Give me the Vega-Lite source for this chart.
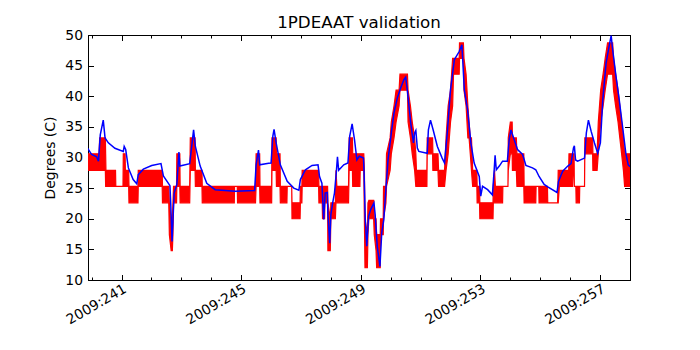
{
  "$schema": "https://vega.github.io/schema/vega-lite/v6.json",
  "width": 542,
  "height": 245,
  "autosize": {"type": "none"},
  "padding": {"left": 88, "top": 35, "right": 70, "bottom": 70},
  "background": "white",
  "title": {"text": "1PDEAAT validation", "font": "DejaVu Sans", "fontSize": 16.7, "fontWeight": "normal", "color": "black", "offset": -4, "anchor": "middle"},
  "config": {
    "view": {"stroke": "black", "strokeWidth": 1},
    "axis": {"domainColor": "black", "tickColor": "black", "labelColor": "black", "labelFont": "DejaVu Sans", "labelFontSize": 13.9, "titleFont": "DejaVu Sans", "titleFontSize": 13.9, "titleFontWeight": "normal", "titleColor": "black", "grid": false, "tickWidth": 1, "domainWidth": 1}
  },
  "datasets": {
    "red": [
      {"t": 239.87, "lo": 27.9, "hi": 30.6},
      {"t": 240.25, "lo": 27.9, "hi": 30.6},
      {"t": 240.27, "lo": 27.9, "hi": 33.2},
      {"t": 240.46, "lo": 27.9, "hi": 33.2},
      {"t": 240.47, "lo": 25.3, "hi": 30.6},
      {"t": 240.48, "lo": 25.3, "hi": 27.9},
      {"t": 240.8, "lo": 25.3, "hi": 27.9},
      {"t": 240.81, "lo": 25.3, "hi": 25.3},
      {"t": 241.05, "lo": 25.3, "hi": 25.3},
      {"t": 241.06, "lo": 25.3, "hi": 30.6},
      {"t": 241.12, "lo": 25.3, "hi": 30.6},
      {"t": 241.13, "lo": 25.3, "hi": 27.9},
      {"t": 241.24, "lo": 25.3, "hi": 27.9},
      {"t": 241.25, "lo": 22.6, "hi": 25.3},
      {"t": 241.55, "lo": 22.6, "hi": 25.3},
      {"t": 241.56, "lo": 25.3, "hi": 27.9},
      {"t": 242.36, "lo": 25.3, "hi": 27.9},
      {"t": 242.37, "lo": 22.6, "hi": 25.3},
      {"t": 242.58, "lo": 22.6, "hi": 25.3},
      {"t": 242.6, "lo": 17.4, "hi": 22.6},
      {"t": 242.66, "lo": 14.8, "hi": 20.0},
      {"t": 242.7, "lo": 14.8, "hi": 20.0},
      {"t": 242.72, "lo": 17.4, "hi": 22.6},
      {"t": 242.74, "lo": 22.6, "hi": 25.3},
      {"t": 242.84, "lo": 22.6, "hi": 25.3},
      {"t": 242.85, "lo": 25.3, "hi": 30.6},
      {"t": 242.95, "lo": 25.3, "hi": 30.6},
      {"t": 242.96, "lo": 22.6, "hi": 25.3},
      {"t": 243.28, "lo": 22.6, "hi": 25.3},
      {"t": 243.3, "lo": 27.9, "hi": 33.2},
      {"t": 243.46, "lo": 27.9, "hi": 33.2},
      {"t": 243.47, "lo": 25.3, "hi": 27.9},
      {"t": 243.69, "lo": 25.3, "hi": 27.9},
      {"t": 243.7, "lo": 22.6, "hi": 25.3},
      {"t": 244.77, "lo": 22.6, "hi": 25.3},
      {"t": 244.78, "lo": 25.3, "hi": 25.3},
      {"t": 244.87, "lo": 25.3, "hi": 25.3},
      {"t": 244.88, "lo": 22.6, "hi": 25.3},
      {"t": 245.48, "lo": 22.6, "hi": 25.3},
      {"t": 245.5, "lo": 25.3, "hi": 30.6},
      {"t": 245.62, "lo": 25.3, "hi": 30.6},
      {"t": 245.63, "lo": 22.6, "hi": 25.3},
      {"t": 246.02, "lo": 22.6, "hi": 25.3},
      {"t": 246.03, "lo": 27.9, "hi": 33.2},
      {"t": 246.17, "lo": 27.9, "hi": 33.2},
      {"t": 246.18, "lo": 25.3, "hi": 30.6},
      {"t": 246.3, "lo": 25.3, "hi": 30.6},
      {"t": 246.31, "lo": 22.6, "hi": 25.3},
      {"t": 246.53, "lo": 22.6, "hi": 25.3},
      {"t": 246.54, "lo": 25.3, "hi": 25.3},
      {"t": 246.69, "lo": 25.3, "hi": 25.3},
      {"t": 246.7, "lo": 20.0, "hi": 22.6},
      {"t": 246.97, "lo": 20.0, "hi": 22.6},
      {"t": 246.98, "lo": 22.6, "hi": 25.3},
      {"t": 247.03, "lo": 22.6, "hi": 25.3},
      {"t": 247.04, "lo": 25.3, "hi": 27.9},
      {"t": 247.59, "lo": 25.3, "hi": 27.9},
      {"t": 247.6, "lo": 22.6, "hi": 25.3},
      {"t": 247.71, "lo": 22.6, "hi": 25.3},
      {"t": 247.72, "lo": 20.0, "hi": 25.3},
      {"t": 247.79, "lo": 20.0, "hi": 25.3},
      {"t": 247.8, "lo": 22.6, "hi": 25.3},
      {"t": 247.89, "lo": 22.6, "hi": 25.3},
      {"t": 247.9, "lo": 14.8, "hi": 22.6},
      {"t": 247.98, "lo": 14.8, "hi": 20.0},
      {"t": 248.0, "lo": 20.0, "hi": 22.6},
      {"t": 248.15, "lo": 20.0, "hi": 22.6},
      {"t": 248.17, "lo": 22.6, "hi": 27.9},
      {"t": 248.2, "lo": 22.6, "hi": 25.3},
      {"t": 248.59, "lo": 22.6, "hi": 25.3},
      {"t": 248.61, "lo": 27.9, "hi": 33.2},
      {"t": 248.72, "lo": 27.9, "hi": 33.2},
      {"t": 248.73, "lo": 25.3, "hi": 30.6},
      {"t": 248.97, "lo": 25.3, "hi": 30.6},
      {"t": 248.98, "lo": 27.9, "hi": 30.6},
      {"t": 249.1, "lo": 27.9, "hi": 30.6},
      {"t": 249.12, "lo": 20.0, "hi": 27.9},
      {"t": 249.14, "lo": 12.0, "hi": 20.0},
      {"t": 249.22, "lo": 12.0, "hi": 17.4},
      {"t": 249.24, "lo": 17.4, "hi": 22.6},
      {"t": 249.27, "lo": 20.0, "hi": 23.0},
      {"t": 249.43, "lo": 20.0, "hi": 23.0},
      {"t": 249.45, "lo": 17.4, "hi": 20.0},
      {"t": 249.51, "lo": 14.8, "hi": 20.0},
      {"t": 249.53, "lo": 12.0, "hi": 17.4},
      {"t": 249.65, "lo": 12.0, "hi": 17.4},
      {"t": 249.66, "lo": 17.4, "hi": 20.0},
      {"t": 249.75, "lo": 17.4, "hi": 20.0},
      {"t": 249.76, "lo": 20.0, "hi": 25.3},
      {"t": 249.84, "lo": 22.6, "hi": 25.3},
      {"t": 249.86, "lo": 25.3, "hi": 30.6},
      {"t": 249.98, "lo": 27.9, "hi": 33.2},
      {"t": 250.02, "lo": 30.6, "hi": 35.8},
      {"t": 250.11, "lo": 33.2, "hi": 38.4},
      {"t": 250.18, "lo": 35.8, "hi": 41.0},
      {"t": 250.28, "lo": 38.4, "hi": 41.0},
      {"t": 250.31, "lo": 41.0, "hi": 43.6},
      {"t": 250.56, "lo": 41.0, "hi": 43.6},
      {"t": 250.58, "lo": 35.8, "hi": 41.0},
      {"t": 250.66, "lo": 33.2, "hi": 38.4},
      {"t": 250.72, "lo": 30.6, "hi": 35.8},
      {"t": 250.8, "lo": 27.9, "hi": 33.2},
      {"t": 250.84, "lo": 25.3, "hi": 30.6},
      {"t": 250.86, "lo": 25.3, "hi": 27.9},
      {"t": 251.21, "lo": 25.3, "hi": 27.9},
      {"t": 251.22, "lo": 30.6, "hi": 33.2},
      {"t": 251.4, "lo": 30.6, "hi": 33.2},
      {"t": 251.41, "lo": 27.9, "hi": 30.6},
      {"t": 251.58, "lo": 27.9, "hi": 30.6},
      {"t": 251.6, "lo": 25.3, "hi": 27.9},
      {"t": 251.8, "lo": 25.3, "hi": 27.9},
      {"t": 251.85, "lo": 27.9, "hi": 33.2},
      {"t": 251.92, "lo": 30.6, "hi": 38.4},
      {"t": 252.0, "lo": 35.8, "hi": 41.0},
      {"t": 252.07, "lo": 38.4, "hi": 46.2},
      {"t": 252.1, "lo": 43.6, "hi": 46.2},
      {"t": 252.29, "lo": 43.6, "hi": 46.2},
      {"t": 252.3, "lo": 46.2, "hi": 48.7},
      {"t": 252.43, "lo": 46.2, "hi": 48.7},
      {"t": 252.45, "lo": 41.0, "hi": 46.2},
      {"t": 252.52, "lo": 38.4, "hi": 43.6},
      {"t": 252.58, "lo": 33.2, "hi": 38.4},
      {"t": 252.62, "lo": 33.2, "hi": 35.8},
      {"t": 252.66, "lo": 30.6, "hi": 33.2},
      {"t": 252.7, "lo": 27.9, "hi": 33.2},
      {"t": 252.74, "lo": 25.3, "hi": 27.9},
      {"t": 252.88, "lo": 25.3, "hi": 27.9},
      {"t": 252.89, "lo": 22.6, "hi": 25.3},
      {"t": 252.97, "lo": 22.6, "hi": 25.3},
      {"t": 252.98, "lo": 20.0, "hi": 22.6},
      {"t": 253.42, "lo": 20.0, "hi": 22.6},
      {"t": 253.43, "lo": 22.6, "hi": 25.3},
      {"t": 253.47, "lo": 22.6, "hi": 27.9},
      {"t": 253.5, "lo": 22.6, "hi": 25.3},
      {"t": 253.74, "lo": 22.6, "hi": 25.3},
      {"t": 253.75, "lo": 25.3, "hi": 25.3},
      {"t": 253.92, "lo": 25.3, "hi": 25.3},
      {"t": 253.93, "lo": 27.9, "hi": 33.2},
      {"t": 254.0, "lo": 30.6, "hi": 35.8},
      {"t": 254.06, "lo": 30.6, "hi": 35.8},
      {"t": 254.07, "lo": 27.9, "hi": 33.2},
      {"t": 254.2, "lo": 27.9, "hi": 33.2},
      {"t": 254.22, "lo": 25.3, "hi": 30.6},
      {"t": 254.45, "lo": 25.3, "hi": 30.6},
      {"t": 254.46, "lo": 22.6, "hi": 25.3},
      {"t": 254.85, "lo": 22.6, "hi": 25.3},
      {"t": 254.86, "lo": 25.3, "hi": 25.3},
      {"t": 254.95, "lo": 25.3, "hi": 25.3},
      {"t": 254.96, "lo": 22.6, "hi": 25.3},
      {"t": 255.24, "lo": 22.6, "hi": 25.3},
      {"t": 255.25, "lo": 22.6, "hi": 22.6},
      {"t": 255.58, "lo": 22.6, "hi": 22.6},
      {"t": 255.6, "lo": 22.6, "hi": 27.9},
      {"t": 255.64, "lo": 25.3, "hi": 27.9},
      {"t": 255.95, "lo": 25.3, "hi": 27.9},
      {"t": 255.96, "lo": 25.3, "hi": 30.6},
      {"t": 256.08, "lo": 25.3, "hi": 30.6},
      {"t": 256.1, "lo": 27.9, "hi": 30.6},
      {"t": 256.13, "lo": 27.9, "hi": 30.6},
      {"t": 256.14, "lo": 25.3, "hi": 25.3},
      {"t": 256.19, "lo": 25.3, "hi": 25.3},
      {"t": 256.2, "lo": 22.6, "hi": 25.3},
      {"t": 256.31, "lo": 22.6, "hi": 25.3},
      {"t": 256.32, "lo": 25.3, "hi": 25.3},
      {"t": 256.48, "lo": 25.3, "hi": 25.3},
      {"t": 256.49, "lo": 30.6, "hi": 33.2},
      {"t": 256.75, "lo": 30.6, "hi": 33.2},
      {"t": 256.76, "lo": 27.9, "hi": 30.6},
      {"t": 256.9, "lo": 27.9, "hi": 30.6},
      {"t": 256.94, "lo": 30.6, "hi": 35.8},
      {"t": 257.02, "lo": 35.8, "hi": 41.0},
      {"t": 257.1, "lo": 38.4, "hi": 43.6},
      {"t": 257.17, "lo": 41.0, "hi": 46.2},
      {"t": 257.25, "lo": 43.6, "hi": 48.7},
      {"t": 257.42, "lo": 43.6, "hi": 48.7},
      {"t": 257.45, "lo": 41.0, "hi": 46.2},
      {"t": 257.52, "lo": 38.4, "hi": 43.6},
      {"t": 257.6, "lo": 35.8, "hi": 41.0},
      {"t": 257.66, "lo": 33.2, "hi": 38.4},
      {"t": 257.72, "lo": 30.6, "hi": 35.8},
      {"t": 257.78, "lo": 27.9, "hi": 33.2},
      {"t": 257.82, "lo": 25.3, "hi": 30.6},
      {"t": 258.0, "lo": 25.3, "hi": 30.6}
    ],
    "blue": [
      {"t": 239.87, "v": 31.5}, {"t": 240.0, "v": 30.5}, {"t": 240.17, "v": 30.1}, {"t": 240.23, "v": 29.4},
      {"t": 240.29, "v": 33.7}, {"t": 240.39, "v": 36.1}, {"t": 240.45, "v": 33.2}, {"t": 240.56, "v": 32.4},
      {"t": 240.78, "v": 31.5}, {"t": 241.06, "v": 31.0}, {"t": 241.09, "v": 31.8}, {"t": 241.14, "v": 31.3},
      {"t": 241.23, "v": 28.3}, {"t": 241.39, "v": 26.4}, {"t": 241.51, "v": 25.7}, {"t": 241.56, "v": 27.2},
      {"t": 241.73, "v": 28.1}, {"t": 242.01, "v": 28.7}, {"t": 242.32, "v": 29.0}, {"t": 242.4, "v": 27.0},
      {"t": 242.62, "v": 25.4}, {"t": 242.65, "v": 22.0}, {"t": 242.69, "v": 16.3}, {"t": 242.76, "v": 24.2},
      {"t": 242.85, "v": 25.6}, {"t": 242.92, "v": 30.9}, {"t": 242.95, "v": 28.6}, {"t": 243.28, "v": 29.0},
      {"t": 243.41, "v": 34.5}, {"t": 243.47, "v": 31.8}, {"t": 243.63, "v": 28.6}, {"t": 243.85, "v": 25.8},
      {"t": 244.13, "v": 24.75}, {"t": 244.8, "v": 24.5}, {"t": 245.45, "v": 24.6}, {"t": 245.5, "v": 28.8},
      {"t": 245.58, "v": 31.2}, {"t": 245.62, "v": 28.8}, {"t": 245.92, "v": 29.05}, {"t": 246.0, "v": 29.1},
      {"t": 246.06, "v": 33.5}, {"t": 246.1, "v": 34.6}, {"t": 246.17, "v": 32.4}, {"t": 246.31, "v": 28.8},
      {"t": 246.54, "v": 26.1}, {"t": 246.76, "v": 25.0}, {"t": 246.93, "v": 24.65}, {"t": 246.98, "v": 26.4},
      {"t": 247.15, "v": 28.0}, {"t": 247.37, "v": 28.7}, {"t": 247.57, "v": 28.8}, {"t": 247.62, "v": 26.9},
      {"t": 247.7, "v": 25.8}, {"t": 247.76, "v": 19.9}, {"t": 247.81, "v": 24.2}, {"t": 247.88, "v": 24.3},
      {"t": 247.9, "v": 20.9}, {"t": 247.96, "v": 16.0}, {"t": 248.0, "v": 20.7}, {"t": 248.06, "v": 22.6},
      {"t": 248.12, "v": 24.2}, {"t": 248.18, "v": 27.5}, {"t": 248.22, "v": 30.1}, {"t": 248.26, "v": 27.9},
      {"t": 248.43, "v": 28.8}, {"t": 248.57, "v": 29.1}, {"t": 248.63, "v": 33.5}, {"t": 248.71, "v": 35.5},
      {"t": 248.79, "v": 32.9}, {"t": 248.87, "v": 29.6}, {"t": 248.95, "v": 30.2}, {"t": 249.09, "v": 29.9},
      {"t": 249.11, "v": 27.5}, {"t": 249.15, "v": 19.9}, {"t": 249.2, "v": 15.5}, {"t": 249.26, "v": 20.4},
      {"t": 249.33, "v": 21.5}, {"t": 249.44, "v": 22.6}, {"t": 249.48, "v": 20.7}, {"t": 249.55, "v": 15.5},
      {"t": 249.64, "v": 12.2}, {"t": 249.7, "v": 17.7}, {"t": 249.77, "v": 19.9}, {"t": 249.83, "v": 24.2},
      {"t": 249.91, "v": 29.6}, {"t": 250.02, "v": 34.0}, {"t": 250.11, "v": 37.3}, {"t": 250.22, "v": 39.7},
      {"t": 250.33, "v": 41.3}, {"t": 250.44, "v": 42.7}, {"t": 250.5, "v": 43.1}, {"t": 250.56, "v": 40.8},
      {"t": 250.67, "v": 35.6}, {"t": 250.76, "v": 32.4}, {"t": 250.8, "v": 34.0}, {"t": 250.84, "v": 34.4},
      {"t": 250.89, "v": 31.55}, {"t": 250.94, "v": 31.0}, {"t": 251.22, "v": 30.7}, {"t": 251.26, "v": 34.5},
      {"t": 251.33, "v": 36.1}, {"t": 251.42, "v": 34.5}, {"t": 251.56, "v": 31.8}, {"t": 251.72, "v": 29.9},
      {"t": 251.8, "v": 29.1}, {"t": 251.89, "v": 34.0}, {"t": 252.0, "v": 41.1}, {"t": 252.13, "v": 46.0},
      {"t": 252.29, "v": 47.3}, {"t": 252.38, "v": 48.4}, {"t": 252.46, "v": 41.1}, {"t": 252.57, "v": 37.8},
      {"t": 252.68, "v": 32.4}, {"t": 252.79, "v": 29.1}, {"t": 252.96, "v": 26.9}, {"t": 253.01, "v": 23.7},
      {"t": 253.07, "v": 25.3}, {"t": 253.24, "v": 24.75}, {"t": 253.4, "v": 23.9}, {"t": 253.46, "v": 28.0},
      {"t": 253.49, "v": 30.35}, {"t": 253.53, "v": 28.0}, {"t": 253.63, "v": 28.6}, {"t": 253.74, "v": 29.4},
      {"t": 253.9, "v": 29.4}, {"t": 253.96, "v": 32.9}, {"t": 254.02, "v": 34.5}, {"t": 254.13, "v": 32.9},
      {"t": 254.24, "v": 31.3}, {"t": 254.41, "v": 30.5}, {"t": 254.52, "v": 28.7}, {"t": 254.74, "v": 28.3},
      {"t": 254.85, "v": 28.0}, {"t": 254.96, "v": 26.9}, {"t": 255.13, "v": 25.6}, {"t": 255.25, "v": 25.2},
      {"t": 255.56, "v": 24.3}, {"t": 255.61, "v": 26.1}, {"t": 255.75, "v": 27.75}, {"t": 255.92, "v": 28.6},
      {"t": 256.03, "v": 29.0}, {"t": 256.11, "v": 31.55}, {"t": 256.14, "v": 31.9}, {"t": 256.18, "v": 29.6},
      {"t": 256.25, "v": 29.4}, {"t": 256.48, "v": 29.9}, {"t": 256.54, "v": 34.0}, {"t": 256.61, "v": 36.1},
      {"t": 256.7, "v": 34.3}, {"t": 256.81, "v": 32.4}, {"t": 256.92, "v": 30.7}, {"t": 257.01, "v": 32.4},
      {"t": 257.09, "v": 39.4}, {"t": 257.2, "v": 45.4}, {"t": 257.31, "v": 48.4}, {"t": 257.37, "v": 49.9},
      {"t": 257.42, "v": 47.6}, {"t": 257.53, "v": 43.3}, {"t": 257.64, "v": 39.4}, {"t": 257.75, "v": 35.1},
      {"t": 257.86, "v": 30.7}, {"t": 257.94, "v": 28.8}, {"t": 258.0, "v": 28.5}
    ]
  },
  "layer": [
    {
      "data": {"name": "red"},
      "mark": {"type": "area", "color": "#ff0000", "fill": "#ff0000", "stroke": "#ff0000", "strokeWidth": 1.2, "clip": true},
      "encoding": {
        "x": {"field": "t", "type": "quantitative", "scale": {"domain": [239.88, 258.0], "nice": false, "zero": false},
          "axis": {"orient": "bottom", "values": [240,241,242,243,244,245,246,247,248,249,250,251,252,253,254,255,256,257,258],
            "labelExpr": "(datum.value - 241) % 4 == 0 ? '2009:' + datum.value : ''",
            "tickSize": {"condition": {"test": "(datum.value - 241) % 4 == 0", "value": -5.5}, "value": -3},
            "labelAngle": -30, "labelAlign": "right", "labelBaseline": "top", "labelPadding": 7,
            "labelOverlap": false, "labelBound": false, "labelFlush": false, "title": null}},
        "y": {"field": "hi", "type": "quantitative", "scale": {"domain": [10, 50], "nice": false, "zero": false},
          "axis": {"orient": "left", "values": [10,15,20,25,30,35,40,45,50], "tickSize": -5.5, "labelPadding": 11,
            "title": "Degrees (C)", "titlePadding": 7}},
        "y2": {"field": "lo"}
      }
    },
    {
      "data": {"name": "blue"},
      "mark": {"type": "line", "color": "#0000ff", "strokeWidth": 1.5, "clip": true},
      "encoding": {
        "x": {"field": "t", "type": "quantitative",
          "axis": {"orient": "top", "values": [240,241,242,243,244,245,246,247,248,249,250,251,252,253,254,255,256,257,258],
            "tickSize": {"condition": {"test": "(datum.value - 241) % 4 == 0", "value": -5.5}, "value": -3},
            "labels": false, "title": null}},
        "y": {"field": "v", "type": "quantitative",
          "axis": {"orient": "right", "values": [10,15,20,25,30,35,40,45,50], "tickSize": -5.5, "labels": false, "title": null}}
      }
    }
  ],
  "resolve": {"axis": {"x": "independent", "y": "independent"}}
}
